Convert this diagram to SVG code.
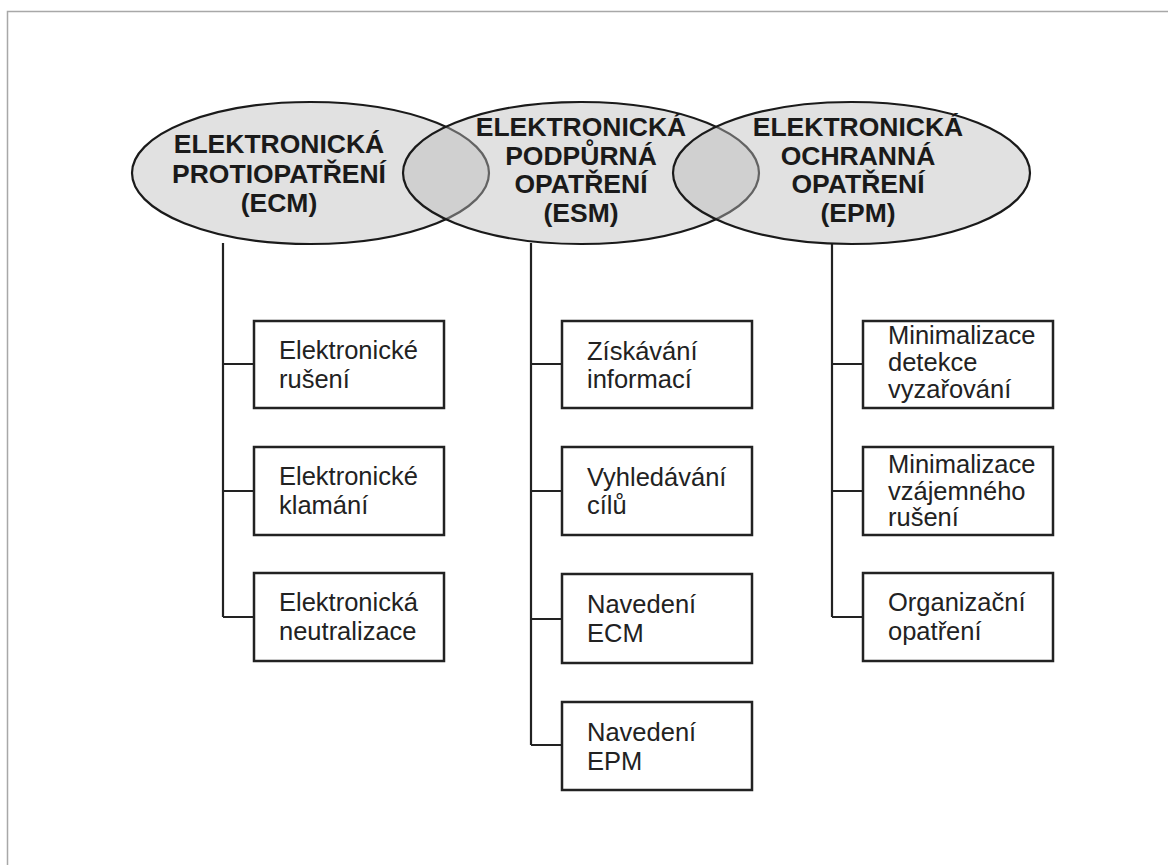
<svg xmlns="http://www.w3.org/2000/svg" width="1168" height="865" viewBox="0 0 1168 865">
<style>
.frame{fill:none;stroke:#a8a8a8;stroke-width:1.5}
.ell{fill:#bdbdbd;fill-opacity:0.45;stroke:#1a1a1a;stroke-width:2.2}
.box{fill:#fff;stroke:#222;stroke-width:2.5}
.con{fill:none;stroke:#222;stroke-width:2.2}
.ht{font-family:"Liberation Sans",Arial,sans-serif;font-weight:bold;font-size:26.5px;fill:#1a1a1a;text-anchor:middle}
.bt{font-family:"Liberation Sans",Arial,sans-serif;font-size:25.5px;fill:#222}
</style>
<rect class="frame" x="7.5" y="11.5" width="1200" height="900"/>
<g id="connectors">
<path class="con" d="M223 243 V617 M223 364 H254 M223 491 H254 M223 617 H254"/>
<path class="con" d="M531 243 V745 M531 364 H562 M531 491 H562 M531 619 H562 M531 745 H562"/>
<path class="con" d="M832 243 V617 M832 364 H863 M832 491 H863 M832 617 H863"/>
</g>
<g id="ecm">
<ellipse class="ell" cx="310.5" cy="173" rx="178.5" ry="71"/>
</g>
<g id="esm">
<ellipse class="ell" cx="581" cy="173" rx="178" ry="71"/>
</g>
<g id="epm">
<ellipse class="ell" cx="851.5" cy="173" rx="178.5" ry="71"/>
</g>
<g id="ecm-label">
<text class="ht" x="279" y="153">ELEKTRONICKÁ</text>
<text class="ht" x="279" y="183">PROTIOPATŘENÍ</text>
<text class="ht" x="279" y="212">(ECM)</text>
</g>
<g id="esm-label">
<text class="ht" x="581" y="136">ELEKTRONICKÁ</text>
<text class="ht" x="581" y="165">PODPŮRNÁ</text>
<text class="ht" x="581" y="193">OPATŘENÍ</text>
<text class="ht" x="581" y="222">(ESM)</text>
</g>
<g id="epm-label">
<text class="ht" x="858" y="136">ELEKTRONICKÁ</text>
<text class="ht" x="858" y="165">OCHRANNÁ</text>
<text class="ht" x="858" y="193">OPATŘENÍ</text>
<text class="ht" x="858" y="222">(EPM)</text>
</g>
<g id="ecm-1">
<rect class="box" x="254" y="321" width="190" height="87"/>
<text class="bt" x="279" y="359">Elektronické</text>
<text class="bt" x="279" y="388">rušení</text>
</g>
<g id="ecm-2">
<rect class="box" x="254" y="447" width="190" height="88"/>
<text class="bt" x="279" y="485">Elektronické</text>
<text class="bt" x="279" y="514">klamání</text>
</g>
<g id="ecm-3">
<rect class="box" x="254" y="573" width="190" height="88"/>
<text class="bt" x="279" y="611">Elektronická</text>
<text class="bt" x="279" y="640">neutralizace</text>
</g>
<g id="esm-1">
<rect class="box" x="562" y="321" width="190" height="87"/>
<text class="bt" x="587" y="360">Získávání</text>
<text class="bt" x="587" y="388">informací</text>
</g>
<g id="esm-2">
<rect class="box" x="562" y="447" width="190" height="88"/>
<text class="bt" x="587" y="486">Vyhledávání</text>
<text class="bt" x="587" y="514">cílů</text>
</g>
<g id="esm-3">
<rect class="box" x="562" y="574" width="190" height="89"/>
<text class="bt" x="587" y="613">Navedení</text>
<text class="bt" x="587" y="642">ECM</text>
</g>
<g id="esm-4">
<rect class="box" x="562" y="702" width="190" height="88"/>
<text class="bt" x="587" y="741">Navedení</text>
<text class="bt" x="587" y="770">EPM</text>
</g>
<g id="epm-1">
<rect class="box" x="863" y="321" width="190" height="87"/>
<text class="bt" x="888" y="344">Minimalizace</text>
<text class="bt" x="888" y="371">detekce</text>
<text class="bt" x="888" y="398">vyzařování</text>
</g>
<g id="epm-2">
<rect class="box" x="863" y="447" width="190" height="88"/>
<text class="bt" x="888" y="473">Minimalizace</text>
<text class="bt" x="888" y="500">vzájemného</text>
<text class="bt" x="888" y="526">rušení</text>
</g>
<g id="epm-3">
<rect class="box" x="863" y="573" width="190" height="88"/>
<text class="bt" x="888" y="611">Organizační</text>
<text class="bt" x="888" y="640">opatření</text>
</g>
</svg>
